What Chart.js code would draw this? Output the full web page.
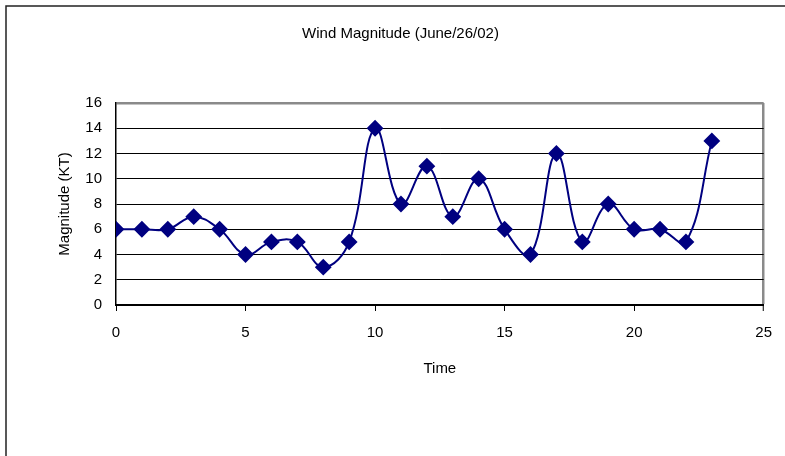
<!DOCTYPE html>
<html>
<head>
<meta charset="utf-8">
<script src="https://cdn.jsdelivr.net/npm/chart.js@4"></script>
<style>
  html, body { margin: 0; padding: 0; background: #fff; }
  #wrap { width: 785px; height: 456px; }
</style>
</head>
<body>
<div id="wrap"><canvas id="chart" width="785" height="456"></canvas></div>
<script>
// Hourly wind magnitude readings (knots)
const hours = [0,1,2,3,4,5,6,7,8,9,10,11,12,13,14,15,16,17,18,19,20,21,22,23];
const magnitude = [6,6,6,7,6,4,5,5,3,5,14,8,11,7,10,6,4,12,5,8,6,6,5,13];
const xTicks = [0,5,10,15,20,25];
const yTicks = [0,2,4,6,8,10,12,14,16];

const FONT = '"Liberation Sans", Arial, sans-serif';
Chart.defaults.color = '#000';
Chart.defaults.font.family = FONT;
Chart.defaults.font.size = 15;

// Outer frame around the chart
const frame = {
  id: 'frame',
  beforeDraw(chart) {
    const ctx = chart.ctx;
    ctx.save();
    ctx.strokeStyle = '#222';
    ctx.lineWidth = 1.5;
    ctx.beginPath();
    ctx.moveTo(6, 456);
    ctx.lineTo(6, 6);
    ctx.lineTo(785, 6);
    ctx.stroke();
    ctx.restore();
  }
};

new Chart(document.getElementById('chart'), {
  type: 'scatter',
  data: {
    datasets: [{
      label: 'Wind Magnitude',
      data: hours.map((h, i) => ({ x: h, y: magnitude[i] })),
      showLine: true,
      borderColor: '#000080',
      backgroundColor: '#000080',
      borderWidth: 2,
      tension: 0.4,
      pointStyle: 'rectRot',
      pointRadius: 7,
      pointHoverRadius: 7,
      pointBackgroundColor: '#000080',
      pointBorderColor: '#000080'
    }]
  },
  options: {
    responsive: false,
    devicePixelRatio: 1,
    animation: false,
    layout: { padding: { left: 16, right: 0, top: 0, bottom: 0 } },
    plugins: {
      legend: { display: false },
      tooltip: { enabled: false },
      title: {
        display: true,
        text: 'Wind Magnitude (June/26/02)',
        color: '#000',
        font: { size: 15, weight: 'normal', family: FONT },
        padding: { top: 25, bottom: 60 }
      }
    },
    scales: {
      x: {
        type: 'linear',
        min: 0,
        max: 25,
        afterFit(scale) { scale.height = 151; },
        afterBuildTicks(scale) { scale.ticks = xTicks.map(v => ({ value: v })); },
        ticks: { padding: 13, color: '#000', font: { size: 15 } },
        grid: {
          drawOnChartArea: true,
          drawTicks: true,
          tickLength: 6,
          tickColor: '#000',
          tickWidth: 1,
          color: ctx => (ctx.tick && ctx.tick.value === 25) ? '#8a8a8a' : 'rgba(0,0,0,0)',
          lineWidth: ctx => (ctx.tick && ctx.tick.value === 25) ? 2.5 : 1
        },
        border: { display: true, color: '#000', width: 2 },
        title: {
          display: true,
          text: 'Time',
          color: '#000',
          font: { size: 15 },
          padding: { top: 0, bottom: 78 }
        }
      },
      y: {
        type: 'linear',
        min: 0,
        max: 16,
        afterFit(scale) { scale.width = 100; },
        afterBuildTicks(scale) { scale.ticks = yTicks.map(v => ({ value: v })); },
        ticks: { padding: 14, color: '#000', font: { size: 15 } },
        grid: {
          drawTicks: false,
          color: ctx => (ctx.tick && ctx.tick.value === 16) ? '#8a8a8a' : '#000',
          lineWidth: ctx => (ctx.tick && ctx.tick.value === 16) ? 2.5 : 1
        },
        border: { display: true, color: '#000', width: 1.5 },
        title: {
          display: true,
          text: 'Magnitude (KT)',
          color: '#000',
          font: { size: 15 },
          padding: { top: 40, bottom: 0 }
        }
      },
      // empty right-hand margin beside the plot
      yRight: {
        type: 'linear',
        position: 'right',
        min: 0,
        max: 16,
        afterFit(scale) { scale.width = 20; },
        ticks: { display: false },
        grid: { display: false, drawOnChartArea: false },
        border: { display: false }
      }
    }
  },
  plugins: [frame]
});
</script>
</body>
</html>
